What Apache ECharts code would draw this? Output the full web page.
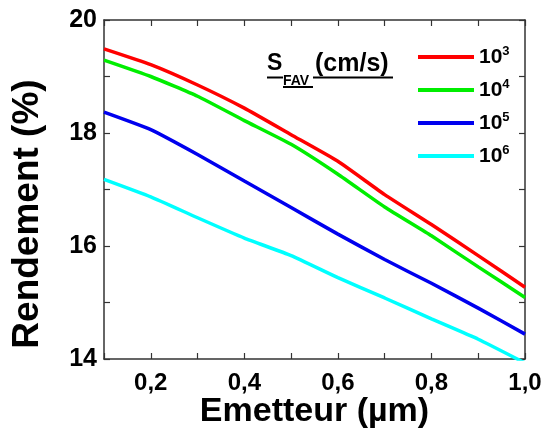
<!DOCTYPE html>
<html><head><meta charset="utf-8">
<script src="https://cdn.jsdelivr.net/npm/echarts@6/dist/echarts.min.js"></script>
<style>html,body{margin:0;padding:0;background:#fff}#c{width:544px;height:429px}</style>
</head><body><div id="c"></div>
<script>
// Data
const xValues = [0.1, 0.2, 0.3, 0.4, 0.5, 0.6, 0.7, 0.8, 0.9, 1.0];
const rend1e3 = [19.49, 19.21, 18.85, 18.44, 17.97, 17.50, 16.91, 16.38, 15.83, 15.27];
const rend1e4 = [19.29, 19.00, 18.65, 18.22, 17.80, 17.27, 16.69, 16.18, 15.63, 15.09];
const rend1e5 = [18.37, 18.06, 17.62, 17.15, 16.68, 16.21, 15.76, 15.34, 14.90, 14.44];
const rend1e6 = [17.18, 16.87, 16.50, 16.14, 15.83, 15.44, 15.08, 14.71, 14.35, 13.93];
const exponents = ['3', '4', '5', '6'];
const seriesNames = ['10^3', '10^4', '10^5', '10^6'];
const colors = ['#ff0000', '#00ee00', '#0000ee', '#00ffff'];
const xTickLabels = ['0,2', '0,4', '0,6', '0,8', '1,0'];
const yTickLabels = ['14', '16', '18', '20'];

const allSeries = [rend1e3, rend1e4, rend1e5, rend1e6];
const FONT = '"Liberation Sans", Arial, sans-serif';
const axisColor = '#333';

function xLab(v) {
  const s = v.toFixed(1).replace('.', ',');
  return xTickLabels.indexOf(s) >= 0 ? s : '';
}
function yLab(v) {
  const s = String(Math.round(v));
  return yTickLabels.indexOf(s) >= 0 && Math.abs(v - Math.round(v)) < 1e-6 ? s : '';
}

const chart = echarts.init(document.getElementById('c'), null, {renderer: 'canvas'});
const baseAxisLine = {show: true, onZero: false, lineStyle: {color: axisColor, width: 1.5}};
const tick = {show: true, inside: true, length: 6, lineStyle: {color: axisColor, width: 1.2}};
const option = {
  animation: false,
  backgroundColor: '#fff',
  color: colors,
  grid: {left: 104, right: 19, top: 20, bottom: 70, containLabel: false, outerBoundsMode: 'none'},
  legend: {
    orient: 'vertical', left: 418, top: 45, padding: 0,
    icon: 'rect', itemWidth: 56, itemHeight: 4, itemGap: 9,
    data: seriesNames,
    formatter: function (name) { return '10{s|' + exponents[seriesNames.indexOf(name)] + '}'; },
    textStyle: {fontFamily: FONT, fontSize: 21, fontWeight: 'bold', color: '#000', lineHeight: 24,
      rich: {s: {fontFamily: FONT, fontSize: 13, fontWeight: 'bold', color: '#000', verticalAlign: 'bottom', padding: [0, 0, 11, 0]}}}
  },
  xAxis: [{
    type: 'value', min: 0.1, max: 1.0, interval: 0.1,
    name: 'Emetteur (µm)', nameLocation: 'middle', nameGap: 36, nameMoveOverlap: false,
    nameTextStyle: {fontFamily: FONT, fontSize: 34, fontWeight: 'bold', color: '#000'},
    axisLine: baseAxisLine, axisTick: tick,
    axisLabel: {formatter: xLab, margin: 12, fontFamily: FONT, fontSize: 24, fontWeight: 'bold', color: '#000', showMinLabel: true, showMaxLabel: true},
    splitLine: {show: false}
  }, {
    type: 'value', position: 'top', min: 0.1, max: 1.0, interval: 0.1,
    axisLine: baseAxisLine, axisTick: tick,
    axisLabel: {show: false}, splitLine: {show: false}
  }],
  yAxis: [{
    type: 'value', min: 14, max: 20, interval: 1,
    axisLine: baseAxisLine, axisTick: tick,
    axisLabel: {formatter: yLab, margin: 7, fontFamily: FONT, fontSize: 25, fontWeight: 'bold', color: '#000'},
    splitLine: {show: false}
  }, {
    type: 'value', position: 'right', min: 14, max: 20, interval: 1,
    axisLine: baseAxisLine, axisTick: tick,
    axisLabel: {show: false}, splitLine: {show: false}
  }],
  graphic: [
    {type: 'text', x: 28, y: 214, rotation: Math.PI / 2,
      style: {text: 'Rendement (%)', align: 'center', verticalAlign: 'middle',
        font: 'bold 37px ' + FONT, fill: '#000'}},
    {type: 'text', x: 267, y: 64, style: {text: 'S', align: 'left', verticalAlign: 'middle', font: 'bold 23px ' + FONT, fill: '#000'}},
    {type: 'text', x: 283, y: 81, style: {text: 'FAV', align: 'left', verticalAlign: 'middle', font: 'bold 14px ' + FONT, fill: '#000'}},
    {type: 'text', x: 315, y: 64, style: {text: '(cm/s)', align: 'left', verticalAlign: 'middle', font: 'bold 25px ' + FONT, fill: '#000'}},
    {type: 'line', shape: {x1: 267, y1: 77.5, x2: 283, y2: 77.5}, style: {stroke: '#000', lineWidth: 2}},
    {type: 'line', shape: {x1: 283, y1: 87, x2: 313, y2: 87}, style: {stroke: '#000', lineWidth: 2}},
    {type: 'line', shape: {x1: 313, y1: 77.5, x2: 393, y2: 77.5}, style: {stroke: '#000', lineWidth: 2}}
  ],
  series: allSeries.map(function (vals, i) {
    return {
      name: seriesNames[i], type: 'line', xAxisIndex: 0, yAxisIndex: 0,
      data: xValues.map(function (x, j) { return [x, vals[j]]; }),
      showSymbol: false, smooth: 0.15, clip: true,
      lineStyle: {width: 3.5, color: colors[i]}, itemStyle: {color: colors[i]}
    };
  })
};
chart.setOption(option);
</script>
</body></html>
